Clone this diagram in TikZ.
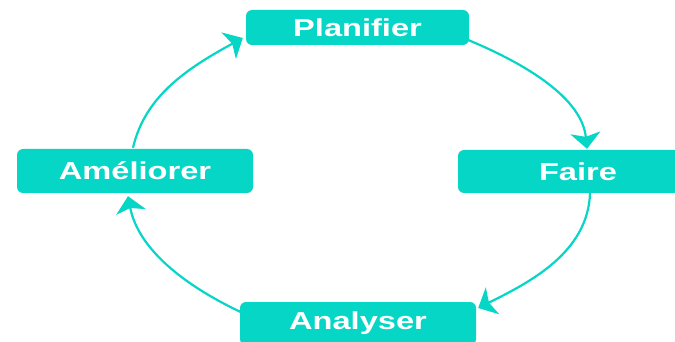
\documentclass[tikz,border=0pt]{standalone}
\usepackage{fontspec}
\setmainfont{Liberation Sans}
\usetikzlibrary{arrows.meta,calc}
\definecolor{turq}{HTML}{05D6C6}
\newcommand{\lbl}[1]{\scalebox{1.33}[1]{#1}}
\tikzset{
  phase/.style={fill=turq, draw=none, rounded corners=6pt, inner sep=0pt,
    text=white, font=\bfseries\fontsize{24.5}{28}\selectfont},
  cyc/.style={draw=turq, line width=2.2pt,
    -{Stealth[length=16pt,width=30pt,inset=4pt]}}
}
\begin{document}
\begin{tikzpicture}[x=1pt,y=-1pt]
\clip (0,0) rectangle (675,342);
\fill[white] (0,0) rectangle (675,342);
\node[phase, minimum width=223pt, minimum height=35pt] (plan) at (357.5,27.5) {\lbl{Planifier}};
\node[phase, minimum width=240pt, minimum height=43pt] (faire) at (578,171.5) {\lbl{Faire}};
\node[phase, minimum width=236pt, minimum height=44pt] (amel) at (135,171) {\lbl{Améliorer}};
\node[phase, minimum width=236pt, minimum height=43pt] (anal) at (358,323.5) {\lbl{Analyser}};
\coordinate (s1) at ($(plan.east)+(-1,12.5)$);
\coordinate (e1) at ($(faire.north)+(9,-1)$);
\coordinate (s2) at ($(faire.south)+(12,0)$);
\coordinate (e2) at ($(anal.east)+(2,-15.5)$);
\coordinate (s3) at ($(anal.west)+(3,-10.5)$);
\coordinate (e3) at ($(amel.south)+(-7,3)$);
\coordinate (s4) at ($(amel.north)+(-2,-1)$);
\coordinate (e4) at ($(plan.west)+(-3,10.5)$);
\draw[cyc] (s1) .. controls ($(s1)+(60,25)$) and ($(e1)+(-5,-50)$) .. (e1);
\draw[cyc] (s2) .. controls ($(s2)+(-2,60)$) and ($(e2)+(50,-25)$) .. (e2);
\draw[cyc] (s3) .. controls ($(s3)+(-60,-28)$) and ($(e3)+(10,52)$) .. (e3);
\draw[cyc] (s4) .. controls ($(s4)+(12,-52)$) and ($(e4)+(-55,30)$) .. (e4);
\end{tikzpicture}
\end{document}
